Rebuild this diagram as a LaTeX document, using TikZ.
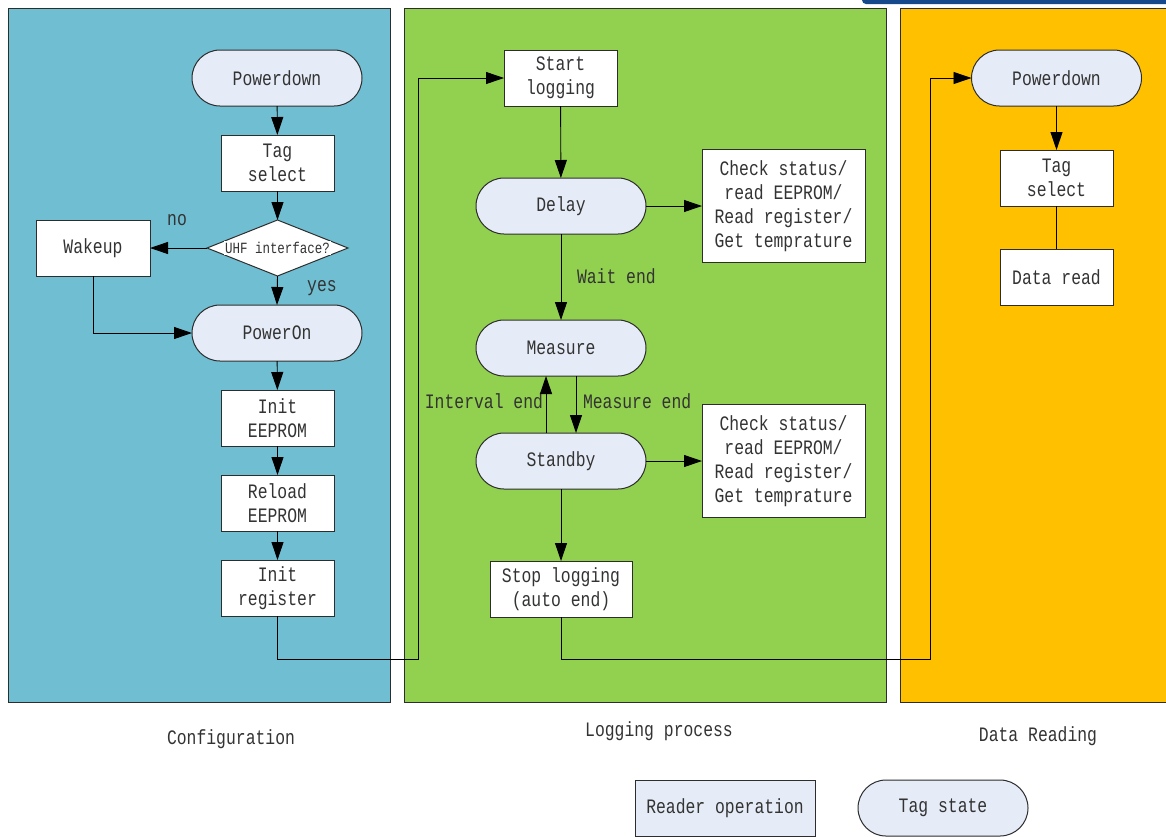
\documentclass[tikz,border=0pt]{standalone}
\usepackage{fontspec}
\setmainfont[FakeStretch=0.8]{Liberation Mono}
\usetikzlibrary{arrows.meta,shapes.geometric}
\definecolor{cfgblue}{RGB}{112,190,210}
\definecolor{loggreen}{RGB}{146,208,80}
\definecolor{readorange}{RGB}{255,192,0}
\definecolor{statefill}{RGB}{230,236,247}
\definecolor{edgegray}{RGB}{45,45,45}
\definecolor{topbar}{RGB}{22,72,140}

\begin{document}
\begin{tikzpicture}[x=1pt,y=-1pt,
  font=\fontsize{20.5}{24}\selectfont,
  every node/.style={inner sep=0pt, outer sep=0pt, align=center, text=black!80},
  panel/.style={draw=edgegray, line width=1pt},
  opbox/.style={draw=edgegray, fill=white, line width=1pt, minimum width=113pt, minimum height=56pt},
  statebox/.style={draw=edgegray, fill=statefill, line width=1pt, rounded corners=28pt, minimum width=170pt, minimum height=56pt},
  infobox/.style={draw=edgegray, fill=white, line width=1pt, minimum width=163pt, minimum height=113pt},
  flow/.style={draw=black, line width=0.9pt, -{Triangle[length=18pt,width=12pt]}},
  link/.style={draw=black, line width=0.9pt},
]
\useasboundingbox (0,0) rectangle (1166,836);
\clip (0,0) rectangle (1166,836);
\fill[white] (0,0) rectangle (1166,836);

% header strip in the upper right corner
\fill[topbar, rounded corners=4pt] (862,-6) rectangle (1175,4);

% the three phases
\filldraw[panel, fill=cfgblue] (8,8) rectangle (390,702);
\filldraw[panel, fill=loggreen] (404,8) rectangle (886,702);
\filldraw[panel, fill=readorange] (900,8) rectangle (1175,702);

% ---- Configuration ----
\node[statebox] (pd1) at (277,78) {Powerdown};
\node[opbox] (tag1) at (277.5,163) {Tag\\select};
\node[diamond, draw=edgegray, fill=white, line width=1pt, minimum width=141pt, minimum height=56pt] (uhf) at (277.5,248) {};
\node[fill=white, inner sep=1pt, font=\fontsize{15.6}{18}\selectfont] (uhftxt) at (277.5,248) {UHF interface?};
\node[opbox, minimum width=114pt] (wake) at (93,248) {Wakeup};
\node[statebox] (pon) at (277,333) {PowerOn};
\node[opbox] (ee1) at (277.5,418) {Init\\EEPROM};
\node[opbox] (ee2) at (277.5,503) {Reload\\EEPROM};
\node[opbox] (reg) at (277.5,588) {Init\\register};
\node (no) at (177,220) {no};
\node (yes) at (322,288) {yes};

\draw[flow] (pd1) -- (tag1);
\draw[flow] (tag1) -- (uhf);
\draw[flow] (uhf.west) -- (wake.east);
\draw[flow] (uhf.south) -- (pon.north);
\draw[flow] (wake.south) |- (pon.west);
\draw[flow] (pon) -- (ee1);
\draw[flow] (ee1) -- (ee2);
\draw[flow] (ee2) -- (reg);

% ---- Logging process ----
\node[opbox] (start) at (560.5,78) {Start\\logging};
\node[statebox] (delay) at (561,206) {Delay};
\node[infobox] (chk1) at (783.5,206) {Check status/\\read EEPROM/\\Read register/\\Get temprature};
\node[statebox] (meas) at (561,348) {Measure};
\node[statebox] (stby) at (561,461) {Standby};
\node[infobox] (chk2) at (783.5,461) {Check status/\\read EEPROM/\\Read register/\\Get temprature};
\node[opbox, minimum width=142pt] (stop) at (561,589) {Stop logging\\(auto end)};
\node[anchor=west] (wait) at (577,276) {Wait end};
\node[anchor=east] (intv) at (543,401) {Interval end};
\node[anchor=west] (mend) at (583,401) {Measure end};

\coordinate (j1) at (418,659);
\draw[flow] (reg.south) |- (j1) |- (start.west);
\draw[flow] (start) -- (delay);
\draw[flow] (delay.east) -- (chk1.west);
\draw[flow] (delay) -- (meas);
\draw[flow] ([xshift=15pt]meas.south) -- ([xshift=15pt]stby.north);
\draw[flow] ([xshift=-15pt]stby.north) -- ([xshift=-15pt]meas.south);
\draw[flow] (stby.east) -- (chk2.west);
\draw[flow] (stby) -- (stop);

% ---- Data reading ----
\node[statebox] (pd2) at (1056.5,78) {Powerdown};
\node[opbox] (tag2) at (1056.5,178) {Tag\\select};
\node[opbox] (rd) at (1056.5,277) {Data read};

\coordinate (j2) at (930,659);
\draw[flow] (stop.south) |- (j2) |- (pd2.west);
\draw[flow] (pd2) -- (tag2);
\draw[link] (tag2) -- (rd);

% ---- phase titles ----
\node (tcfg) at (231,739) {Configuration};
\node (tlog) at (659,731) {Logging process};
\node (trd) at (1038,736) {Data Reading};

% ---- legend ----
\node[opbox, fill=statefill, minimum width=180pt] (legop) at (725,808) {Reader operation};
\node[statebox] (legst) at (943,808) {Tag state};
\end{tikzpicture}
\end{document}
